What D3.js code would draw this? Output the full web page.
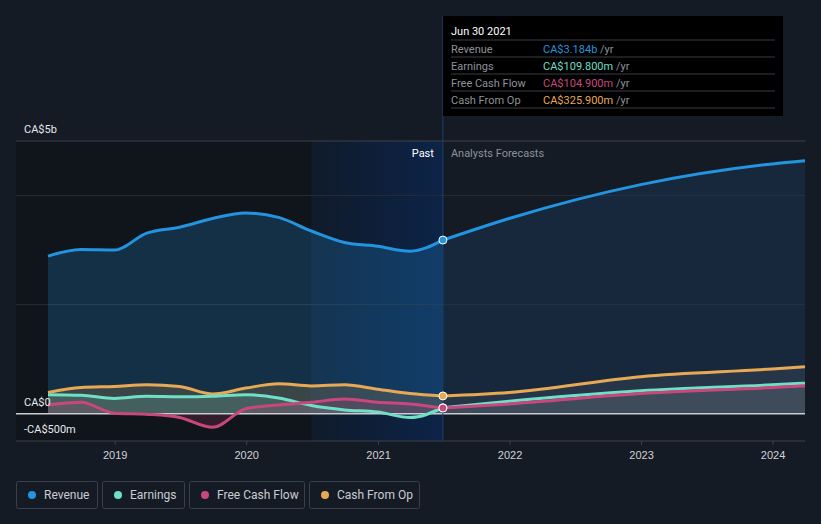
<!DOCTYPE html>
<html>
<head>
<meta charset="utf-8">
<title>Revenue and earnings</title>
<script src="https://d3js.org/d3.v7.min.js"></script>
<style>
  body { margin: 0; background: #151b25; }
  svg { font-family: Roboto, "Noto Sans", sans-serif; display: block; }
</style>
</head>
<body>
<div id="chart"></div>
<script>
// data, CA$ billions
const pastDates = ["2018-06-30", "2018-09-30", "2018-12-31", "2019-03-31", "2019-06-30", "2019-09-30",
  "2019-12-31", "2020-03-31", "2020-06-30", "2020-09-30", "2020-12-31", "2021-03-31", "2021-06-30"];
const revenuePast = [2.89, 3.01, 3.0, 3.31, 3.42, 3.58, 3.68, 3.6, 3.35, 3.14, 3.07, 2.98, 3.184];
const earningsPast = [0.35, 0.34, 0.28, 0.32, 0.31, 0.32, 0.35, 0.29, 0.15, 0.07, 0.03, -0.07, 0.1098];
const fcfPast = [0.16, 0.21, 0.01, -0.01, -0.07, -0.25, 0.09, 0.16, 0.21, 0.27, 0.21, 0.18, 0.1049];
const cfoPast = [0.39, 0.48, 0.50, 0.53, 0.50, 0.36, 0.47, 0.55, 0.51, 0.53, 0.45, 0.37, 0.3259];

const forecastDates = ["2021-06-30", "2021-12-31", "2022-12-31", "2023-12-31", "2024-03-31"];
const revenueFc = [3.184, 3.58, 4.2, 4.58, 4.64];
const earningsFc = [0.1098, 0.23, 0.42, 0.53, 0.56];
const fcfFc = [0.1049, 0.18, 0.37, 0.48, 0.51];
const cfoFc = [0.3259, 0.39, 0.68, 0.82, 0.86];

const seriesNames = ["Revenue", "Earnings", "Free Cash Flow", "Cash From Op"];
const seriesColors = ["#2394df", "#6fdfc6", "#c8487e", "#e8a955"];
const tooltipValues = ["CA$3.184b", "CA$109.800m", "CA$104.900m", "CA$325.900m"];
const yTicks = [-0.5, 0, 5];
const yTickLabels = ["-CA$500m", "CA$0", "CA$5b"];
const gridValues = [2, 4, 5];
const xTicks = ["2019-01-01", "2020-01-01", "2021-01-01", "2022-01-01", "2023-01-01", "2024-01-01"];

const W = 821, H = 524;
const parse = d3.timeParse("%Y-%m-%d");

const svg = d3.select("#chart").append("svg")
    .attr("width", W)
    .attr("height", H);

const x = d3.scaleTime()
    .domain([parse("2018-06-30"), parse("2024-03-31")])
    .range([48, 805]);
const y = d3.scaleLinear()
    .domain([-0.5, 5])
    .range([441, 141]);

const plotLeft = 16, plotRight = 805;
const nowDate = parse("2021-06-30");
const yearAgo = parse("2020-06-30");

// gradients
const defs = svg.append("defs");
const hl = defs.append("linearGradient").attr("id", "hl").attr("x1", "0").attr("x2", "1");
hl.append("stop").attr("offset", "0").attr("stop-color", "#101a2a");
hl.append("stop").attr("offset", "1").attr("stop-color", "#0c2448");

// past background
svg.append("rect")
    .attr("x", plotLeft).attr("y", y(5))
    .attr("width", x(yearAgo) - plotLeft).attr("height", y(-0.5) - y(5))
    .attr("fill", "#10141b");
svg.append("rect")
    .attr("x", x(yearAgo)).attr("y", y(5))
    .attr("width", x(nowDate) - x(yearAgo)).attr("height", y(-0.5) - y(5))
    .attr("fill", "url(#hl)");

// gridlines
svg.selectAll(".grid").data(gridValues).join("line")
    .attr("x1", plotLeft).attr("x2", plotRight)
    .attr("y1", d => y(d)).attr("y2", d => y(d))
    .attr("stroke", d => d === 5 ? "#3c414b" : "#262c37")
    .attr("stroke-width", 1);

// build series
function toPoints(dates, vals) {
  return dates.map((d, i) => ({ date: parse(d), v: vals[i] }));
}
const past = [revenuePast, earningsPast, fcfPast, cfoPast].map(v => toPoints(pastDates, v));
const fc = [revenueFc, earningsFc, fcfFc, cfoFc].map(v => toPoints(forecastDates, v));

const line = d3.line().x(d => x(d.date)).y(d => y(d.v)).curve(d3.curveMonotoneX);
const area = d3.area().x(d => x(d.date)).y0(y(0)).y1(d => y(d.v)).curve(d3.curveMonotoneX);

// areas (draw order: revenue, cfo, earnings, fcf)
const order = [0, 3, 1, 2];
const pastOpacity = [0.22, 0.18, 0.18, 0.18];
order.forEach(i => {
  svg.append("path").datum(past[i])
      .attr("d", area)
      .attr("fill", seriesColors[i])
      .attr("fill-opacity", pastOpacity[i]);
  svg.append("path").datum(fc[i])
      .attr("d", area)
      .attr("fill", i === 0 ? "#1f4a73" : "#8a8f99")
      .attr("fill-opacity", i === 0 ? 0.3 : 0.13);
});

// zero line and bottom axis line
svg.append("line")
    .attr("x1", plotLeft).attr("x2", plotRight)
    .attr("y1", y(0)).attr("y2", y(0))
    .attr("stroke", "#c9ccd1").attr("stroke-width", 1.5);
svg.append("line")
    .attr("x1", plotLeft).attr("x2", plotRight)
    .attr("y1", y(-0.5)).attr("y2", y(-0.5))
    .attr("stroke", "#3c414b").attr("stroke-width", 1);

// lines
order.forEach(i => {
  svg.append("path").datum(past[i])
      .attr("d", line)
      .attr("fill", "none")
      .attr("stroke", seriesColors[i])
      .attr("stroke-width", 3);
  svg.append("path").datum(fc[i])
      .attr("d", line)
      .attr("fill", "none")
      .attr("stroke", seriesColors[i])
      .attr("stroke-width", 3);
});

// now line
svg.append("line")
    .attr("x1", x(nowDate)).attr("x2", x(nowDate))
    .attr("y1", 16).attr("y2", y(-0.5))
    .attr("stroke", "#1f3f6e").attr("stroke-width", 1);

// markers at now
[3, 1, 2, 0].forEach(i => {
  svg.append("circle")
      .attr("cx", x(nowDate))
      .attr("cy", y(past[i][past[i].length - 1].v))
      .attr("r", 4)
      .attr("fill", seriesColors[i])
      .attr("stroke", "#fff")
      .attr("stroke-width", 1);
});

// x axis
const xAxis = svg.append("g")
    .attr("transform", `translate(0,${y(-0.5)})`)
    .call(d3.axisBottom(x).tickValues(xTicks.map(parse)).tickFormat(d3.timeFormat("%Y")).tickSize(4).tickPadding(6));
xAxis.select(".domain").remove();
xAxis.selectAll(".tick line").attr("stroke", "#3c414b");
xAxis.selectAll(".tick text").attr("fill", "#d0d2d6").attr("font-size", 11);

// y labels
svg.selectAll(".ylab").data(yTicks).join("text")
    .attr("x", 24)
    .attr("y", d => y(d) - 8)
    .attr("fill", "#e6e8eb")
    .attr("font-size", 11)
    .text((d, i) => yTickLabels[i]);

// past / forecast labels
svg.append("text")
    .attr("x", x(nowDate) - 9).attr("y", 157)
    .attr("text-anchor", "end")
    .attr("fill", "#ffffff").attr("font-size", 11)
    .text("Past");
svg.append("text")
    .attr("x", x(nowDate) + 8).attr("y", 157)
    .attr("fill", "#8d9199").attr("font-size", 11)
    .text("Analysts Forecasts");

// tooltip
const tt = svg.append("g").attr("transform", "translate(443,16)");
tt.append("rect").attr("width", 340).attr("height", 100).attr("fill", "#000");
tt.append("text").attr("x", 8).attr("y", 19).attr("fill", "#fff").attr("font-size", 11).text("Jun 30 2021");
[24, 41, 58, 75, 92].forEach(yy => {
  tt.append("line").attr("x1", 8).attr("x2", 332).attr("y1", yy).attr("y2", yy)
      .attr("stroke", "#3a3d42").attr("stroke-width", 1);
});
seriesNames.forEach((name, i) => {
  const ry = 37 + i * 17;
  tt.append("text").attr("x", 8).attr("y", ry).attr("fill", "#8d9199").attr("font-size", 11).text(name);
  const t = tt.append("text").attr("x", 100).attr("y", ry).attr("font-size", 11);
  t.append("tspan").attr("fill", seriesColors[i]).text(tooltipValues[i]);
  t.append("tspan").attr("fill", "#8d9199").text(" /yr");
});

// legend
const legendX = [16, 102, 189, 309];
const legendW = [81, 82, 115, 110];
seriesNames.forEach((name, i) => {
  const g = svg.append("g").attr("transform", `translate(${legendX[i]},481)`);
  g.append("rect").attr("x", 0.5).attr("y", 0.5).attr("width", legendW[i]).attr("height", 27)
      .attr("rx", 2).attr("fill", "none").attr("stroke", "#3a3f4a");
  g.append("circle").attr("cx", 16).attr("cy", 14).attr("r", 4).attr("fill", seriesColors[i]);
  g.append("text").attr("x", 28).attr("y", 18).attr("fill", "#c9ccd1").attr("font-size", 12).text(name);
});
</script>
</body>
</html>
